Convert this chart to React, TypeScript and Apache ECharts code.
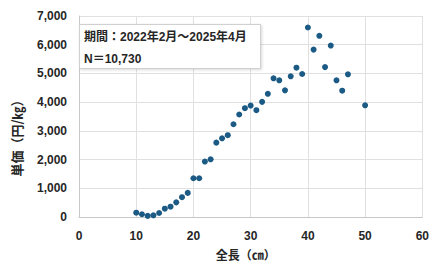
import React, { useEffect, useRef } from "react";
import * as echarts from "echarts";

const lengths = [10, 11, 12, 13, 14, 15, 16, 17, 18, 19, 20, 21, 22, 23, 24, 25, 26, 27, 28, 29, 30, 31, 32, 33, 34, 35, 36, 37, 38, 39, 40, 41, 42, 43, 44, 45, 46, 47, 50];
const prices = [150, 95, 40, 60, 140, 290, 360, 510, 690, 840, 1350, 1350, 1930, 2010, 2590, 2740, 2850, 3230, 3570, 3790, 3880, 3720, 4010, 4290, 4830, 4760, 4410, 4900, 5200, 4980, 6600, 5830, 6310, 5220, 5970, 4760, 4400, 4970, 3890];
const infoLines = ["期間：2022年2月～2025年4月", "N＝10,730"];
const xName = "全長（㎝）";
const yName = "単価（円/㎏）";

const FONT = "'Liberation Sans', 'Noto Sans CJK JP', sans-serif";
const CJK_FONT = "'Noto Sans CJK JP', sans-serif";
const TEXT_COLOR = "#262626";

export default function App() {
  const ref = useRef<HTMLDivElement>(null);
  useEffect(() => {
    if (!ref.current) return;
    const chart = echarts.init(ref.current, undefined, { renderer: "svg" });
    chart.setOption({
      animation: false,
      backgroundColor: "#ffffff",
      grid: { left: 79, right: 7, top: 16, bottom: 50, containLabel: false },
      xAxis: {
        type: "value",
        min: 0,
        max: 60,
        interval: 10,
        name: xName,
        nameLocation: "middle",
        nameGap: 31,
        nameTextStyle: { fontFamily: CJK_FONT, fontSize: 12, fontWeight: "bold", color: TEXT_COLOR, padding: [0, 10, 0, 0] },
        axisLine: { show: true, lineStyle: { color: "#c8c8c8", width: 1 } },
        axisTick: { show: false },
        axisLabel: { fontFamily: FONT, fontSize: 12, fontWeight: "bold", color: TEXT_COLOR, margin: 13 },
        splitLine: { show: true, lineStyle: { color: "#e0e0e0", width: 1 } },
      },
      yAxis: {
        type: "value",
        min: 0,
        max: 7000,
        interval: 1000,
        axisLine: { show: true, lineStyle: { color: "#c8c8c8", width: 1 } },
        axisTick: { show: false },
        axisLabel: {
          fontFamily: FONT,
          fontSize: 12,
          fontWeight: "bold",
          color: TEXT_COLOR,
          margin: 12,
          formatter: (v: number) => v.toLocaleString("en-US"),
        },
        splitLine: { show: true, lineStyle: { color: "#e0e0e0", width: 1 } },
      },
      series: [
        {
          type: "scatter",
          data: lengths.map((x, i) => [x, prices[i]]),
          symbol: "circle",
          symbolSize: 6,
          itemStyle: { color: "#1b5a84", opacity: 1 },
        },
      ],
      graphic: [
        {
          type: "text",
          x: 16,
          y: 135,
          rotation: Math.PI / 2,
          style: {
            text: yName,
            font: `bold 13px ${CJK_FONT}`,
            fill: TEXT_COLOR,
            align: "center",
            verticalAlign: "middle",
          },
        },
        {
          type: "rect",
          left: 79,
          top: 24,
          shape: { width: 181, height: 44 },
          style: {
            fill: "#ffffff",
            stroke: "#d0d0d0",
            lineWidth: 1,
            shadowBlur: 3,
            shadowColor: "rgba(0,0,0,0.15)",
            shadowOffsetX: 1,
            shadowOffsetY: 1,
          },
          z: 10,
        },
        {
          type: "text",
          left: 84,
          top: 31,
          style: { text: infoLines[0], font: `bold 12px ${FONT}`, fill: TEXT_COLOR },
          z: 11,
        },
        {
          type: "text",
          left: 84,
          top: 53,
          style: { text: infoLines[1], font: `bold 12px ${FONT}`, fill: TEXT_COLOR },
          z: 11,
        },
      ],
    });
    return () => chart.dispose();
  }, []);
  return <div ref={ref} style={{ position: "fixed", left: 0, top: 0, width: 432, height: 267 }} />;
}
